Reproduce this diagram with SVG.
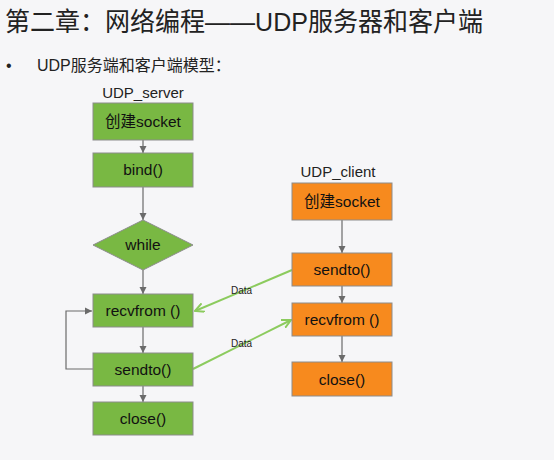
<svg xmlns="http://www.w3.org/2000/svg" width="554" height="460" viewBox="0 0 554 460">
<defs>
<style>
.t{font-family:"Liberation Sans","Noto Sans CJK SC",sans-serif;fill:#222}
.box{stroke:#8c8c8c;stroke-width:1}
.g{fill:#79b843}
.o{fill:#f78a1e}
.lbl{font-family:"Liberation Sans","Noto Sans CJK SC",sans-serif;font-size:15.5px;fill:#111;text-anchor:middle}
.ln{stroke:#6b6b6b;stroke-width:1.2;fill:none}
.gl{stroke:#8ccb5e;stroke-width:2;fill:none}
</style>
<marker id="ah" markerWidth="8" markerHeight="8" refX="7" refY="4" orient="auto" markerUnits="userSpaceOnUse"><path d="M0,0.5 L7,4 L0,7.5 z" fill="#6b6b6b"/></marker>
<marker id="gh" markerWidth="10" markerHeight="10" refX="9" refY="5" orient="auto" markerUnits="userSpaceOnUse"><path d="M0,0.5 L9,5 L0,9.5" fill="none" stroke="#8ccb5e" stroke-width="2"/></marker>
</defs>
<rect width="554" height="460" fill="#f6f6f8"/>
<text class="t" x="5" y="31" font-size="26" fill="#333" textLength="478" lengthAdjust="spacingAndGlyphs">第二章：网络编程——UDP服务器和客户端</text>
<text class="t" x="6" y="71" font-size="16">•</text>
<text class="t" x="37" y="71" font-size="16">UDP服务端和客户端模型：</text>
<text class="t" x="143" y="98" font-size="15" text-anchor="middle">UDP_server</text>
<text class="t" x="338" y="177" font-size="15" text-anchor="middle">UDP_client</text>

<g id="connectors">
<line class="ln" x1="143" y1="140" x2="143" y2="153" marker-end="url(#ah)"/>
<line class="ln" x1="143" y1="187" x2="143" y2="220" marker-end="url(#ah)"/>
<line class="ln" x1="143" y1="270" x2="143" y2="294" marker-end="url(#ah)"/>
<line class="ln" x1="143" y1="327" x2="143" y2="353" marker-end="url(#ah)"/>
<line class="ln" x1="143" y1="386" x2="143" y2="402" marker-end="url(#ah)"/>
<polyline class="ln" points="93,369 66,369 66,311 92,311" marker-end="url(#ah)"/>
<line class="ln" x1="342" y1="220" x2="342" y2="253" marker-end="url(#ah)"/>
<line class="ln" x1="342" y1="286" x2="342" y2="303" marker-end="url(#ah)"/>
<line class="ln" x1="342" y1="336" x2="342" y2="362" marker-end="url(#ah)"/>
<line class="gl" x1="292" y1="270" x2="195" y2="311" marker-end="url(#gh)"/>
<line class="gl" x1="193" y1="369" x2="291" y2="320" marker-end="url(#gh)"/>
<text class="t" x="231" y="294" font-size="10">Data</text>
<text class="t" x="231" y="347" font-size="10">Data</text>
</g>

<g id="s_socket"><rect class="box g" x="93" y="103" width="100" height="37"/><text class="lbl" x="143" y="127">创建socket</text></g>
<g id="s_bind"><rect class="box g" x="93" y="153" width="100" height="34"/><text class="lbl" x="143" y="175">bind()</text></g>
<g id="s_while"><polygon class="box g" points="143,220 193,245 143,270 93,245"/><text class="lbl" x="143" y="250">while</text></g>
<g id="s_recvfrom"><rect class="box g" x="93" y="294" width="100" height="33"/><text class="lbl" x="143" y="316">recvfrom ()</text></g>
<g id="s_sendto"><rect class="box g" x="93" y="353" width="100" height="33"/><text class="lbl" x="143" y="375">sendto()</text></g>
<g id="s_close"><rect class="box g" x="93" y="402" width="100" height="33"/><text class="lbl" x="143" y="424">close()</text></g>

<g id="c_socket"><rect class="box o" x="292" y="183" width="100" height="37"/><text class="lbl" x="342" y="207">创建socket</text></g>
<g id="c_sendto"><rect class="box o" x="292" y="253" width="100" height="33"/><text class="lbl" x="342" y="275">sendto()</text></g>
<g id="c_recvfrom"><rect class="box o" x="292" y="303" width="100" height="33"/><text class="lbl" x="342" y="325">recvfrom ()</text></g>
<g id="c_close"><rect class="box o" x="292" y="362" width="100" height="34"/><text class="lbl" x="342" y="385">close()</text></g>
</svg>
